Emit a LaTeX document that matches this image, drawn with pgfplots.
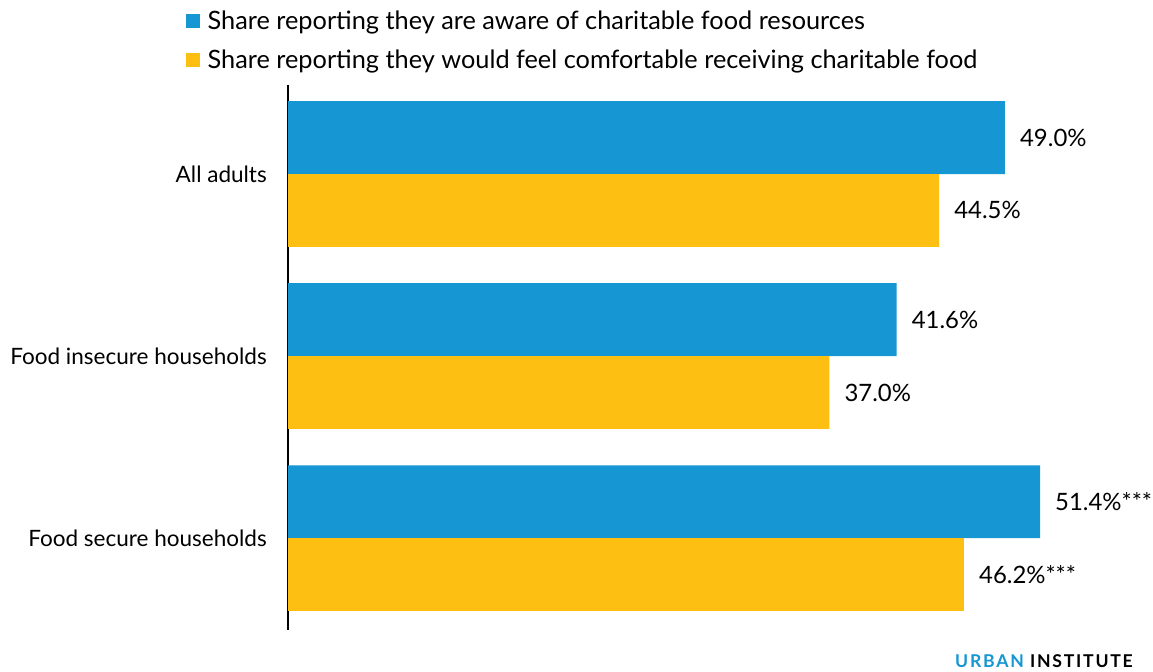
\documentclass[border=0pt]{standalone}
\usepackage{pgfplots}
\pgfplotsset{compat=1.18}
\usepackage{fontspec}
\setmainfont{Lato}
\newfontfamily\urbanfont[LetterSpace=10]{Lato}
\definecolor{ublue}{HTML}{1696D2}
\definecolor{uyellow}{HTML}{FDBF11}
\begin{document}
\begin{tikzpicture}[x=1bp,y=1bp]
\path[use as bounding box] (0,0) rectangle (1153,672);
\begin{axis}[
 at={(288bp,42bp)}, anchor=south west,
 scale only axis, width=804.7bp, height=545bp,
 xmin=0, xmax=55, ymin=-0.489, ymax=2.505, y dir=reverse,
 xbar, bar width=0.4,
 axis x line=none, axis y line*=left,
 axis line style={black, line width=1.8bp, -},
 ytick={0,1,2},
 yticklabels={All adults, Food insecure households, Food secure households},
 major tick length=0,
 yticklabel style={font=\fontsize{22.6}{27}\selectfont, inner sep=0pt, xshift=-21bp},
 nodes near coords, point meta=explicit symbolic,
 every node near coord/.append style={anchor=west, inner sep=0pt, xshift=15bp,
   font=\fontsize{24}{28}\selectfont, text=black},
 legend image code/.code={\fill[#1] (0bp,-7bp) rectangle (14bp,7bp);},
 legend cell align=left,
 legend style={draw=none, fill=none, at={(-0.1268,1.1395)}, anchor=north west,
   inner sep=0pt, row sep=15bp, font=\fontsize{25.4}{30}\selectfont,
   /tikz/every odd column/.append style={column sep=5.5bp}},
]
\addplot[fill=ublue, draw=none, bar shift=-0.2] coordinates {(49.0,0) [49.0\%] (41.6,1) [41.6\%] (51.4,2) [51.4\%***]};
\addplot[fill=uyellow, draw=none, bar shift=0.2] coordinates {(44.5,0) [44.5\%] (37.0,1) [37.0\%] (46.2,2) [46.2\%***]};
\legend{Share reporting they are aware of charitable food resources, Share reporting they would feel comfortable receiving charitable food}
\end{axis}
\node[anchor=base east, inner sep=0pt, font=\fontsize{17.7}{20}\selectfont\urbanfont\bfseries] at (1133,4) {\textcolor{ublue}{URBAN} INSTITUTE};
\end{tikzpicture}
\end{document}
